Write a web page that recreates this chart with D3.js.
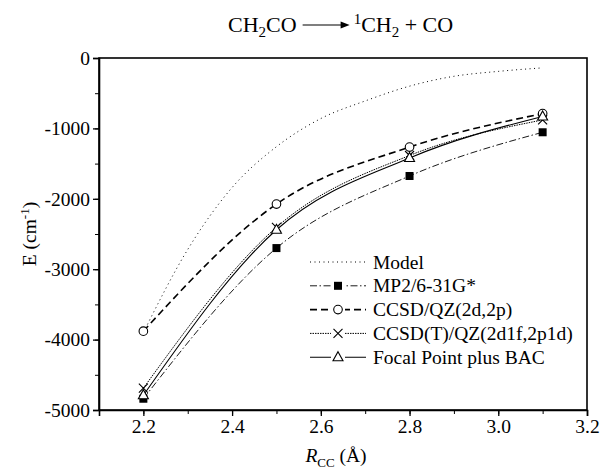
<!DOCTYPE html>
<html>
<head>
<meta charset="utf-8">
<script src="https://cdn.jsdelivr.net/npm/d3@7"></script>
<style>
  body { margin: 0; background: #fff; }
  svg text { font-family: "Liberation Serif", Tinos, "Times New Roman", Times, "DejaVu Serif", serif; fill: #000; }
</style>
</head>
<body>
<script>
// bond distances (Angstrom)
const rcc = [2.2, 2.5, 2.8, 3.1];
const rModel = [2.2, 2.3, 2.4, 2.5, 2.6, 2.7, 2.8, 2.9, 3.0, 3.1];

// energies (cm-1)
const model = [-3900, -2720, -1840, -1260, -860, -610, -400, -260, -190, -140];
const mp2 = [-4840, -2700, -1676, -1055];
const ccsd = [-3880, -2075, -1265, -790];
const ccsdT = [-4690, -2405, -1385, -880];
const focal = [-4790, -2440, -1420, -830];

const xTicks = [2.2, 2.4, 2.6, 2.8, 3.0, 3.2];
const yTicks = [0, -1000, -2000, -3000, -4000, -5000];

const width = 601, height = 471;
const margin = { left: 99, right: 14, top: 58, bottom: 61 };
const serif = '"Liberation Serif", Tinos, "Times New Roman", Times, "DejaVu Serif", serif';

const svg = d3.select('body').append('svg')
  .attr('width', width)
  .attr('height', height);

const x = d3.scaleLinear().domain([2.1, 3.2]).range([margin.left, width - margin.right]);
const y = d3.scaleLinear().domain([-5000, 0]).range([height - margin.bottom, margin.top]);

// frame
svg.append('rect')
  .attr('x', x(2.1)).attr('y', y(0))
  .attr('width', x(3.2) - x(2.1)).attr('height', y(-5000) - y(0))
  .attr('fill', 'none').attr('stroke', '#000').attr('stroke-width', 1.6);

// minor ticks
svg.append('g')
  .attr('transform', `translate(0,${y(-5000)})`)
  .call(d3.axisBottom(x).tickValues(d3.range(2.1, 3.25, 0.1)).tickSize(4).tickFormat(''))
  .call(g => g.select('.domain').remove());
svg.append('g')
  .attr('transform', `translate(${x(2.1)},0)`)
  .call(d3.axisLeft(y).tickValues(d3.range(-5000, 1, 500)).tickSize(4).tickFormat(''))
  .call(g => g.select('.domain').remove());

// major axes
const xAxis = svg.append('g')
  .attr('transform', `translate(0,${y(-5000)})`)
  .call(d3.axisBottom(x).tickValues(xTicks).tickSize(6).tickPadding(3).tickFormat(d3.format('.1f')));
const yAxis = svg.append('g')
  .attr('transform', `translate(${x(2.1)},0)`)
  .call(d3.axisLeft(y).tickValues(yTicks).tickSize(6).tickPadding(3).tickFormat(d => d === 0 ? '0' : '-' + Math.abs(d)));
[xAxis, yAxis].forEach(g => {
  g.attr('font-family', serif).attr('font-size', 19.5);
  g.select('.domain').attr('stroke-width', 1.6);
  g.selectAll('line').attr('stroke-width', 1.3);
});
svg.selectAll('.tick line').attr('stroke', '#000');

// series
const series = [
  { name: 'Model', xs: rModel, ys: model, dash: '1,3.5', width: 1, marker: null },
  { name: 'MP2/6-31G*', xs: rcc, ys: mp2, dash: '7,2.5,1.5,2.5', width: 0.9, marker: 'square' },
  { name: 'CCSD/QZ(2d,2p)', xs: rcc, ys: ccsd, dash: '7,4', width: 1.6, marker: 'circle' },
  { name: 'CCSD(T)/QZ(2d1f,2p1d)', xs: rcc, ys: ccsdT, dash: '1.5,1', width: 1, marker: 'cross' },
  { name: 'Focal Point plus BAC', xs: rcc, ys: focal, dash: null, width: 1.1, marker: 'triangle' }
];

const line = d3.line()
  .x(d => x(d[0]))
  .y(d => y(d[1]))
  .curve(d3.curveMonotoneX);

function drawMarker(g, type, cx, cy) {
  if (type === 'square') {
    g.append('rect').attr('x', cx - 4).attr('y', cy - 4).attr('width', 8).attr('height', 8).attr('fill', '#000');
  } else if (type === 'circle') {
    g.append('circle').attr('cx', cx).attr('cy', cy).attr('r', 4.3)
      .attr('fill', '#fff').attr('stroke', '#000').attr('stroke-width', 1.1);
  } else if (type === 'cross') {
    g.append('path').attr('d', `M${cx - 4.5},${cy - 4.5}L${cx + 4.5},${cy + 4.5}M${cx - 4.5},${cy + 4.5}L${cx + 4.5},${cy - 4.5}`)
      .attr('stroke', '#000').attr('stroke-width', 1.1);
  } else if (type === 'triangle') {
    g.append('path').attr('d', `M${cx},${cy - 5.5}L${cx + 5},${cy + 3.5}L${cx - 5},${cy + 3.5}Z`)
      .attr('fill', '#fff').attr('stroke', '#000').attr('stroke-width', 1.1);
  }
}

series.forEach(s => {
  const pts = s.xs.map((v, i) => [v, s.ys[i]]);
  svg.append('path')
    .datum(pts)
    .attr('d', line)
    .attr('fill', 'none')
    .attr('stroke', '#000')
    .attr('stroke-width', s.width)
    .attr('stroke-dasharray', s.dash);
  if (s.marker) {
    const g = svg.append('g');
    pts.forEach(p => drawMarker(g, s.marker, x(p[0]), y(p[1])));
  }
});

// legend
const legend = svg.append('g');
series.forEach((s, i) => {
  const ly = 262 + i * 23.8;
  legend.append('line')
    .attr('x1', 310).attr('x2', 366).attr('y1', ly).attr('y2', ly)
    .attr('stroke', '#000').attr('stroke-width', s.width)
    .attr('stroke-dasharray', s.dash);
  if (s.marker) {
    legend.append('rect').attr('x', 331).attr('y', ly - 6).attr('width', 14).attr('height', 12).attr('fill', '#fff');
    drawMarker(legend, s.marker, 338, ly);
  }
  legend.append('text')
    .attr('x', 373).attr('y', ly + 6.5)
    .attr('font-family', serif)
    .attr('font-size', 19.5)
    .text(s.name);
});

// y label
svg.append('text')
  .attr('transform', `translate(36,${(y(0) + y(-5000)) / 2}) rotate(-90)`)
  .attr('text-anchor', 'middle')
  .attr('font-family', serif)
  .attr('font-size', 19.5)
  .call(t => {
    t.append('tspan').text('E (cm');
    t.append('tspan').attr('dy', -7).attr('font-size', 13).text('-1');
    t.append('tspan').attr('dy', 7).text(')');
  });

// x label
svg.append('text')
  .attr('x', 336).attr('y', 462)
  .attr('text-anchor', 'middle')
  .attr('font-family', serif)
  .attr('font-size', 19.5)
  .call(t => {
    t.append('tspan').attr('font-style', 'italic').text('R');
    t.append('tspan').attr('dy', 5).attr('font-size', 13).text('CC');
    t.append('tspan').attr('dy', -5).text(' (Å)');
  });

// title: CH2CO -> 1CH2 + CO
const title = svg.append('g').attr('font-family', serif);
const left = title.append('text').attr('x', 228).attr('y', 32).attr('font-size', 22)
  .call(t => {
    t.append('tspan').text('CH');
    t.append('tspan').attr('dy', 5).attr('font-size', 15).text('2');
    t.append('tspan').attr('dy', -5).text('CO');
  });
const lw = left.node().getComputedTextLength();
const ax0 = 228 + lw + 6, ax1 = ax0 + 47;
title.append('line').attr('x1', ax0).attr('x2', ax1 - 6).attr('y1', 25).attr('y2', 25)
  .attr('stroke', '#000').attr('stroke-width', 1.2);
title.append('path').attr('d', `M${ax1},25L${ax1 - 9},21.5L${ax1 - 9},28.5Z`).attr('fill', '#000');
title.append('text').attr('x', ax1 + 4).attr('y', 32).attr('font-size', 22)
  .call(t => {
    t.append('tspan').attr('dy', -8).attr('font-size', 15).text('1');
    t.append('tspan').attr('dy', 8).text('CH');
    t.append('tspan').attr('dy', 5).attr('font-size', 15).text('2');
    t.append('tspan').attr('dy', -5).text(' + CO');
  });
</script>
</body>
</html>
